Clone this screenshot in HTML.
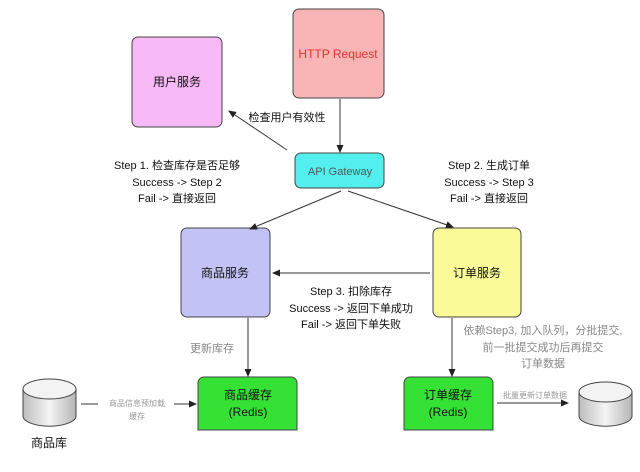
<!DOCTYPE html>
<html><head><meta charset="utf-8"><style>
html,body{margin:0;padding:0;background:#fff;}
svg{display:block;}
text{font-family:"Liberation Sans","Noto Sans CJK SC",sans-serif;}
</style></head><body>
<svg width="640" height="472" viewBox="0 0 640 472" xmlns="http://www.w3.org/2000/svg">
<defs>
<marker id="a" markerWidth="8" markerHeight="8" refX="7" refY="4" orient="auto" markerUnits="userSpaceOnUse"><path d="M0,0.5 L8,4 L0,7.5 Z" fill="#222"/></marker>
<linearGradient id="cyl" x1="0" x2="1" y1="0" y2="0"><stop offset="0" stop-color="#bdbdbd"/><stop offset="0.5" stop-color="#f4f4f4"/><stop offset="1" stop-color="#b5b5b5"/></linearGradient>
</defs>
<rect x="293" y="9" width="91" height="89" rx="6" fill="#f9b5b5" stroke="#444"/>
<text x="338" y="58" font-size="12" fill="#d33" text-anchor="middle">HTTP Request</text>
<rect x="132" y="37" width="90" height="90" rx="6" fill="#f7b9f5" stroke="#444"/>
<text x="177" y="86" font-size="12" fill="#111" text-anchor="middle">用户服务</text>
<rect x="295" y="153" width="89" height="35" rx="6" fill="#55eeee" stroke="#444"/>
<text x="340" y="175" font-size="11" fill="#555" text-anchor="middle">API Gateway</text>
<rect x="181" y="228" width="89" height="89" rx="6" fill="#c2c2f7" stroke="#444"/>
<text x="225" y="277" font-size="12" fill="#111" text-anchor="middle">商品服务</text>
<rect x="433" y="228" width="88" height="89" rx="6" fill="#fafa99" stroke="#444"/>
<text x="477" y="277" font-size="12" fill="#111" text-anchor="middle">订单服务</text>
<path d="M198,430 V383 a6,6 0 0 1 6,-6 h87 a6,6 0 0 1 6,6 V430 Z" fill="#35e135" stroke="#444"/>
<text x="248" y="399" font-size="12" fill="#111" text-anchor="middle">商品缓存</text>
<text x="248" y="416" font-size="12" fill="#111" text-anchor="middle">(Redis)</text>
<path d="M404,430 V383 a6,6 0 0 1 6,-6 h77 a6,6 0 0 1 6,6 V430 Z" fill="#35e135" stroke="#444"/>
<text x="448" y="399" font-size="12" fill="#111" text-anchor="middle">订单缓存</text>
<text x="448" y="416" font-size="12" fill="#111" text-anchor="middle">(Redis)</text>
<!-- cylinders -->
<g stroke="#444" fill="url(#cyl)">
<path d="M23,389 V416 a26,10 0 0 0 53,0 V389"/>
<ellipse cx="49.5" cy="389" rx="26.5" ry="10" fill="#f3f3f3"/>
<path d="M579,392 V416 a26,10 0 0 0 53,0 V392"/>
<ellipse cx="605.5" cy="392" rx="26.5" ry="10" fill="#f3f3f3"/>
</g>
<text x="49" y="447" font-size="12" fill="#111" text-anchor="middle">商品库</text>
<!-- arrows -->
<g stroke="#333" stroke-width="1" fill="none">
<line x1="340" y1="99" x2="340" y2="152" marker-end="url(#a)"/>
<line x1="287" y1="150" x2="229" y2="111" marker-end="url(#a)"/>
<line x1="341" y1="191" x2="250" y2="229" marker-end="url(#a)"/>
<line x1="348" y1="191" x2="453" y2="227" marker-end="url(#a)"/>
<line x1="430" y1="273" x2="273" y2="273" marker-end="url(#a)"/>
<line x1="248" y1="318" x2="248" y2="376" marker-end="url(#a)"/>
<line x1="452" y1="318" x2="452" y2="376" marker-end="url(#a)"/>
<line x1="81" y1="404" x2="98" y2="404"/>
<line x1="174" y1="404" x2="196" y2="404" marker-end="url(#a)"/>
<line x1="497" y1="403" x2="568" y2="403" marker-end="url(#a)"/>
</g>
<g font-size="11" fill="#111" text-anchor="middle">
<text x="287" y="121">检查用户有效性</text>
<text x="177" y="169">Step 1. 检查库存是否足够</text>
<text x="177" y="186">Success -&gt; Step 2</text>
<text x="177" y="202">Fail -&gt; 直接返回</text>
<text x="489" y="169">Step 2. 生成订单</text>
<text x="489" y="186">Success -&gt; Step 3</text>
<text x="489" y="202">Fail -&gt; 直接返回</text>
<text x="351" y="295">Step 3. 扣除库存</text>
<text x="351" y="312">Success -&gt; 返回下单成功</text>
<text x="351" y="328">Fail -&gt; 返回下单失败</text>
</g>
<g font-size="11" fill="#888" text-anchor="middle">
<text x="212" y="352">更新库存</text>
<text x="543" y="334">依赖Step3, 加入队列，分批提交,</text>
<text x="543" y="351">前一批提交成功后再提交</text>
<text x="543" y="367">订单数据</text>
</g>
<g font-size="8" fill="#999" text-anchor="middle">
<text x="137" y="406">商品信息预加载</text>
<text x="137" y="419">缓存</text>
<text x="535" y="398">批量更新订单数据</text>
</g>
</svg>
</body></html>
